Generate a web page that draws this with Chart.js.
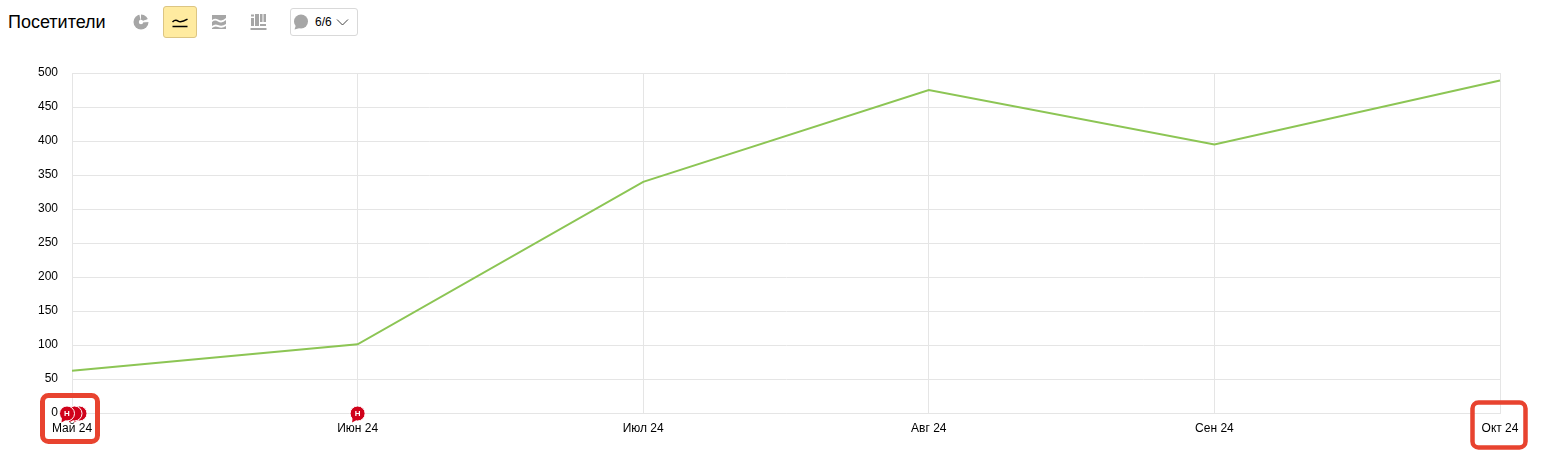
<!DOCTYPE html>
<html lang="ru">
<head>
<meta charset="utf-8">
<title>Посетители</title>
<script src="https://cdn.jsdelivr.net/npm/chart.js@4"></script>
<style>
  html, body { margin: 0; padding: 0; background: #fff; width: 1550px; height: 458px; overflow: hidden; }
  body { position: relative; font-family: "Liberation Sans", Arial, sans-serif; color: #000; }
  #chart { position: absolute; left: 0; top: 0; }
  .title { position: absolute; left: 8px; top: 12px; font-size: 18px; line-height: 20px; }
  .ico { position: absolute; top: 6px; width: 34px; height: 32px; box-sizing: border-box; }
  .ico svg { display: block; width: 100%; height: 100%; }
  .ico.active { background: #ffeba0; border: 1px solid #dcc583; border-radius: 3px; }
  .dd { position: absolute; left: 290px; top: 8px; width: 68px; height: 28px; box-sizing: border-box;
        border: 1px solid #d9d9d9; border-radius: 3px; }
  .dd svg { position: absolute; left: 0; top: 0; }
  .dd span { position: absolute; left: 24px; top: 5px; font-size: 12px; line-height: 16px; }
</style>
</head>
<body>
<div class="title">Посетители</div>
<div class="ico" style="left:124px">
  <svg viewBox="0 0 34 32"><circle cx="17" cy="16" r="7.5" fill="#a6a6a6"/><circle cx="17" cy="16" r="2.2" fill="#fff"/><path d="M17 16 L25.5 13 L25.5 15.5 Z" fill="#fff" stroke="#fff"/><path d="M17 16 L15 7 L17 7 Z" fill="#fff"/></svg>
</div>
<div class="ico active" style="left:163px">
  <svg viewBox="0 0 34 32"><path d="M9 16 Q12 13 15 15 T25 13" fill="none" stroke="#000" stroke-width="1.6"/><rect x="9" y="20" width="16" height="1.6" fill="#000"/></svg>
</div>
<div class="ico" style="left:203px">
  <svg viewBox="0 0 34 32"><path d="M9 9 H23 V12 Q19 16 15 13.5 Q12 12 9 14 Z M9 16 Q12 13.5 15 15.5 Q19 18 23 14 V18 Q19 21 15 19 Q12 17.5 9 20 Z M9 22 Q12 19.5 15 21 Q19 23 23 20 V23 H9 Z" fill="#a6a6a6"/></svg>
</div>
<div class="ico" style="left:241px">
  <svg viewBox="0 0 34 32"><path d="M10 12 H13 V20 H10 Z M10 8.5 H13 V10.5 H10 Z M14 8 H18 V20 H14 Z M19 8 H21.5 V16 H19 Z M22.5 8 H25 V16 H22.5 Z M19 18 H25 V20 H19 Z M9.5 22 H25.5 V24 H9.5 Z" fill="#a6a6a6"/></svg>
</div>
<div class="dd">
  <svg width="66" height="26" viewBox="0 0 66 26"><circle cx="10" cy="12.5" r="7" fill="#a6a6a6"/><path d="M5 16 L3.5 20.5 L9 19 Z" fill="#a6a6a6"/><path d="M46 10.5 L51.5 16 L57 10.5" fill="none" stroke="#444" stroke-width="1"/></svg>
  <span>6/6</span>
</div>
<canvas id="chart" width="1550" height="458"></canvas>
<script>
const months = ["Май 24", "Июн 24", "Июл 24", "Авг 24", "Сен 24", "Окт 24"];
const visitors = [62, 101, 340, 475, 395, 489];
const yTicks = [0, 50, 100, 150, 200, 250, 300, 350, 400, 450, 500];
const noteMonths = ["Май 24", "Май 24", "Май 24", "Июн 24"];
const noteShift = [7.5, 2.5, -5, 0];
const noteLabel = "Н";
const framedMonths = ["Май 24", "Окт 24"];

const notesPlugin = {
  id: "notes",
  afterDraw(chart) {
    const ctx = chart.ctx;
    const xs = chart.scales.x;
    const ys = chart.scales.y;
    const zero = ys.getPixelForValue(0);

    // red frames round the first and last month labels
    framedMonths.forEach((m, i) => {
      const px = xs.getPixelForValue(months.indexOf(m));
      ctx.save();
      ctx.strokeStyle = "#e8432f";
      ctx.lineWidth = i === 0 ? 5 : 4.5;
      ctx.beginPath();
      if (i === 0) ctx.roundRect(px - 29.5, zero - 17.5, 55, 46, 6);
      else ctx.roundRect(px - 27.5, zero - 10.5, 53, 45, 6);
      ctx.stroke();
      ctx.restore();
    });

    // note pins sit on the zero line
    noteMonths.forEach((m, i) => {
      const px = xs.getPixelForValue(months.indexOf(m)) + noteShift[i];
      const py = zero + 0.5;
      const front = i === noteMonths.length - 1 || noteMonths[i + 1] !== m;
      ctx.save();
      ctx.fillStyle = "#d0021b";
      ctx.strokeStyle = "#fff";
      ctx.lineWidth = 1;
      ctx.beginPath();
      ctx.arc(px, py, 7.5, 0, Math.PI * 2);
      ctx.fill();
      ctx.stroke();
      ctx.beginPath();
      ctx.moveTo(px - 5, py + 4);
      ctx.lineTo(px - 5.5, py + 9);
      ctx.lineTo(px - 1, py + 6.5);
      ctx.closePath();
      ctx.fill();
      if (front) {
        ctx.fillStyle = "#fff";
        ctx.font = "bold 8px 'Liberation Sans', Arial, sans-serif";
        ctx.textAlign = "center";
        ctx.textBaseline = "middle";
        ctx.fillText(noteLabel, px, py + 0.5);
      }
      ctx.restore();
    });
  },
};

new Chart(document.getElementById("chart").getContext("2d"), {
  type: "line",
  data: {
    labels: months,
    datasets: [
      {
        label: "Посетители",
        data: visitors,
        borderColor: "#8cc554",
        borderWidth: 2,
        pointRadius: 0,
        tension: 0,
        fill: false,
      },
    ],
  },
  options: {
    responsive: false,
    animation: false,
    devicePixelRatio: 1,
    layout: { padding: { left: 0, right: 50, top: 73, bottom: 0 } },
    plugins: { legend: { display: false }, tooltip: { enabled: false } },
    scales: {
      x: {
        type: "category",
        offset: false,
        afterFit: (s) => { s.height = 45; },
        border: { color: "#e5e5e5" },
        grid: { color: "#e5e5e5", drawTicks: false },
        ticks: {
          color: "#000",
          font: { family: "'Liberation Sans', Arial, sans-serif", size: 12 },
          maxRotation: 0,
          autoSkip: false,
          padding: 8,
        },
      },
      y: {
        min: 0,
        max: 500,
        afterFit: (s) => { s.width = 72; },
        afterBuildTicks: (s) => { s.ticks = yTicks.map((v) => ({ value: v })); },
        border: { color: "#e5e5e5" },
        grid: { color: "#e5e5e5", drawTicks: false },
        ticks: {
          color: "#000",
          font: { family: "'Liberation Sans', Arial, sans-serif", size: 12 },
          padding: 14,
        },
      },
    },
  },
  plugins: [notesPlugin],
});
</script>
</body>
</html>
